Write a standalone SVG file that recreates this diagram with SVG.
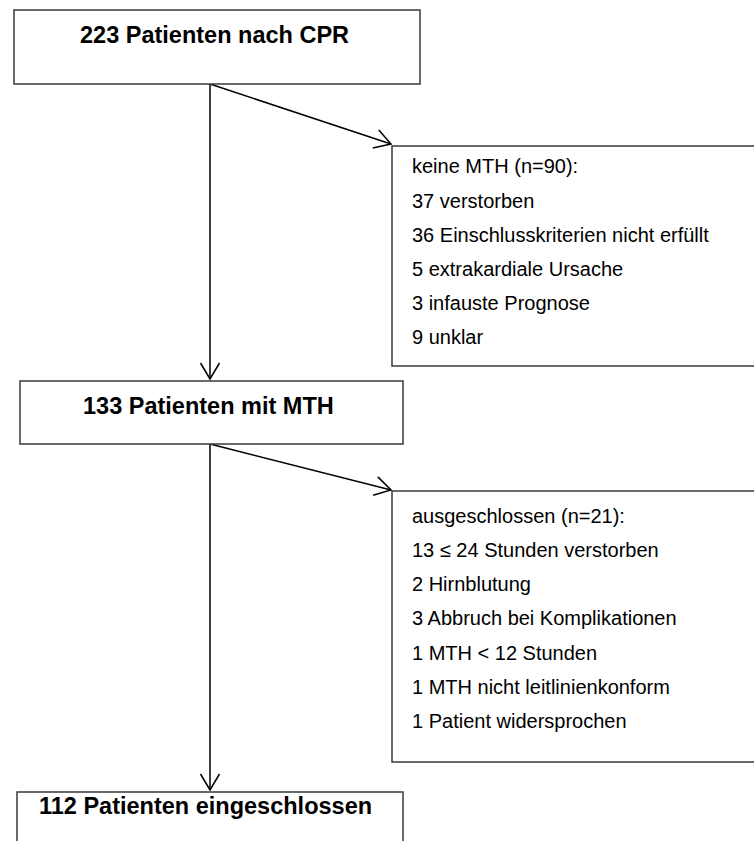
<svg xmlns="http://www.w3.org/2000/svg" width="754" height="841" viewBox="0 0 754 841">
<style>
.box{fill:#ffffff;stroke:#3a3a3a;stroke-width:1.5}
.title{font-family:"Liberation Sans",Arial,sans-serif;font-weight:bold;font-size:23.5px;fill:#000}
.item{font-family:"Liberation Sans",Arial,sans-serif;font-size:20px;fill:#000}
.conn{fill:none;stroke:#000;stroke-width:1.5}
</style>
<defs>
<marker id="arrow" markerUnits="userSpaceOnUse" markerWidth="40" markerHeight="40" viewBox="-20 -20 40 40" refX="0" refY="0" orient="auto">
<path d="M -16 -9.5 L 0 0 L -16 9.5" fill="none" stroke="#000" stroke-width="1.5"/>
</marker>
</defs>
<rect width="754" height="841" fill="#ffffff"/>
<g id="connectors">
<line class="conn" x1="210" y1="84" x2="210" y2="379" marker-end="url(#arrow)"/>
<line class="conn" x1="210" y1="84" x2="391" y2="144" marker-end="url(#arrow)"/>
<line class="conn" x1="210" y1="444" x2="210" y2="790" marker-end="url(#arrow)"/>
<line class="conn" x1="210" y1="444" x2="391" y2="490" marker-end="url(#arrow)"/>
</g>
<g id="node-cpr">
<rect class="box" x="14" y="10" width="406" height="74"/>
<text class="title" x="80" y="43">223 Patienten nach CPR</text>
</g>
<g id="node-keine-mth">
<rect class="box" x="392" y="146" width="370" height="220"/>
<text class="item" x="412" y="173">keine MTH (n=90):</text>
<text class="item" x="412" y="208">37 verstorben</text>
<text class="item" x="412" y="242">36 Einschlusskriterien nicht erfüllt</text>
<text class="item" x="412" y="276">5 extrakardiale Ursache</text>
<text class="item" x="412" y="310">3 infauste Prognose</text>
<text class="item" x="412" y="344">9 unklar</text>
</g>
<g id="node-mth">
<rect class="box" x="20" y="381" width="383" height="63"/>
<text class="title" x="83" y="414">133 Patienten mit MTH</text>
</g>
<g id="node-ausgeschlossen">
<rect class="box" x="392" y="491" width="370" height="271"/>
<text class="item" x="412" y="523">ausgeschlossen (n=21):</text>
<text class="item" x="412" y="557">13 ≤ 24 Stunden verstorben</text>
<text class="item" x="412" y="591">2 Hirnblutung</text>
<text class="item" x="412" y="625">3 Abbruch bei Komplikationen</text>
<text class="item" x="412" y="660">1 MTH &lt; 12 Stunden</text>
<text class="item" x="412" y="694">1 MTH nicht leitlinienkonform</text>
<text class="item" x="412" y="728">1 Patient widersprochen</text>
</g>
<g id="node-eingeschlossen">
<rect class="box" x="17" y="792" width="386" height="70"/>
<text class="title" x="39" y="814">112 Patienten eingeschlossen</text>
</g>
</svg>
